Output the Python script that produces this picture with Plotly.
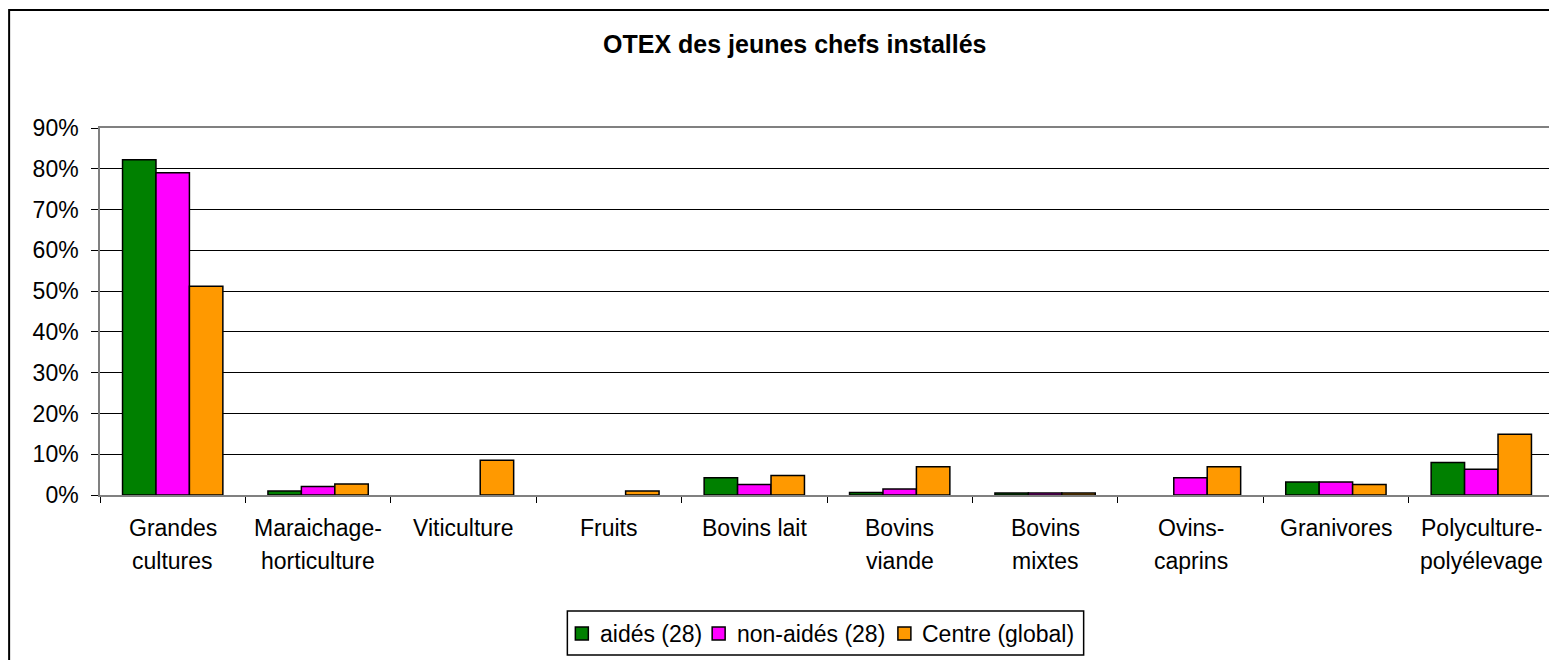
import plotly.graph_objects as go

categories = ["Grandes cultures", "Maraichage-horticulture", "Viticulture", "Fruits",
              "Bovins lait", "Bovins viande", "Bovins mixtes", "Ovins-caprins",
              "Granivores", "Polyculture-polyélevage"]
label_line1 = ["Grandes", "Maraichage-", "Viticulture", "Fruits", "Bovins lait",
               "Bovins", "Bovins", "Ovins-", "Granivores", "Polyculture-"]
label_line2 = ["cultures", "horticulture", "", "", "", "viande", "mixtes", "caprins",
               "", "polyélevage"]

series_names = ["aidés (28)", "non-aidés (28)", "Centre (global)"]
aides = [0.822, 0.010, 0.0, 0.0, 0.042, 0.006, 0.005, 0.0, 0.032, 0.080]
non_aides = [0.790, 0.021, 0.0, 0.0, 0.026, 0.015, 0.005, 0.042, 0.032, 0.063]
centre = [0.512, 0.027, 0.085, 0.010, 0.048, 0.069, 0.005, 0.069, 0.026, 0.149]
colors = ["#008000", "#FF00FF", "#FF9900"]

FONT = "Liberation Sans, Arial, sans-serif"
FS = 23

# page is offset by 8px (body margin); figure spans page x 8..1557, y 8..660
W, H = 1549, 652
L, R, T, B = 92, 1, 120, 165
PH = H - T - B
PW = W - L - R


def py(page_y):
    """page y (px) -> paper y"""
    return 1 - (page_y - 8 - T) / PH


def px(page_x):
    return (page_x - 8 - L) / PW


fig = go.Figure()
for name, vals, col in zip(series_names, [aides, non_aides, centre], colors):
    fig.add_trace(go.Bar(x=categories, y=[v if v > 0 else None for v in vals], name=name,
                         showlegend=False,
                         marker=dict(color=col, line=dict(color="black", width=1.5))))

annotations = []
shapes = []
annotations.append(dict(text="<b>OTEX des jeunes chefs installés</b>", xref="paper", yref="paper",
                        x=px(795), y=py(44), xanchor="center", yanchor="middle",
                        showarrow=False, font=dict(family=FONT, size=25, color="black")))
for c, l1, l2 in zip(categories, label_line1, label_line2):
    annotations.append(dict(text=l1, xref="x", yref="paper", x=c, y=py(528),
                            xanchor="center", yanchor="middle", showarrow=False,
                            font=dict(family=FONT, size=FS, color="black")))
    if l2:
        annotations.append(dict(text=l2, xref="x", yref="paper", x=c, y=py(561),
                                xanchor="center", yanchor="middle", showarrow=False,
                                font=dict(family=FONT, size=FS, color="black")))

# outer chart frame
shapes.append(dict(type="rect", xref="paper", yref="paper",
                   x0=px(9), y0=py(720), x1=1.05, y1=py(10),
                   line=dict(color="black", width=2), fillcolor="rgba(0,0,0,0)", layer="below"))

# custom legend (Excel-like compact layout)
shapes.append(dict(type="rect", xref="paper", yref="paper",
                   x0=px(568), x1=px(1085), y0=py(655), y1=py(611),
                   line=dict(color="black", width=1.5), fillcolor="white", layer="above"))
sq_x = [576, 713, 899]
txt_x = [599, 736, 921]
for name, col, sx, tx in zip(series_names, colors, sq_x, txt_x):
    shapes.append(dict(type="rect", xref="paper", yref="paper",
                       x0=px(sx), x1=px(sx + 13), y0=py(640), y1=py(627),
                       line=dict(color="black", width=1.5), fillcolor=col, layer="above"))
    annotations.append(dict(text=name, xref="paper", yref="paper", x=px(tx), y=py(634),
                            xanchor="left", yanchor="middle", showarrow=False,
                            font=dict(family=FONT, size=FS, color="black")))

fig.update_layout(
    width=W, height=H,
    margin=dict(l=L, r=R, t=T, b=B),
    paper_bgcolor="white", plot_bgcolor="white",
    barmode="group", bargap=0.31, bargroupgap=0,
    font=dict(family=FONT, size=FS, color="black"),
    showlegend=False,
    annotations=annotations,
    shapes=shapes,
)
fig.update_xaxes(showticklabels=False, ticks="outside", tickson="boundaries", ticklen=6,
                 tickcolor="black", showline=True, linecolor="#808080", linewidth=1.5,
                 mirror=True, showgrid=False)
fig.update_yaxes(range=[0, 0.9], dtick=0.1, tickformat=".0%", ticks="outside", ticklen=7,
                 tickcolor="black", showline=True, linecolor="#808080", linewidth=1.5,
                 mirror=True, showgrid=True, gridcolor="black", gridwidth=1,
                 zeroline=False, ticklabelstandoff=8,
                 tickfont=dict(family=FONT, size=FS, color="black"))

fig.write_html("out.html")
